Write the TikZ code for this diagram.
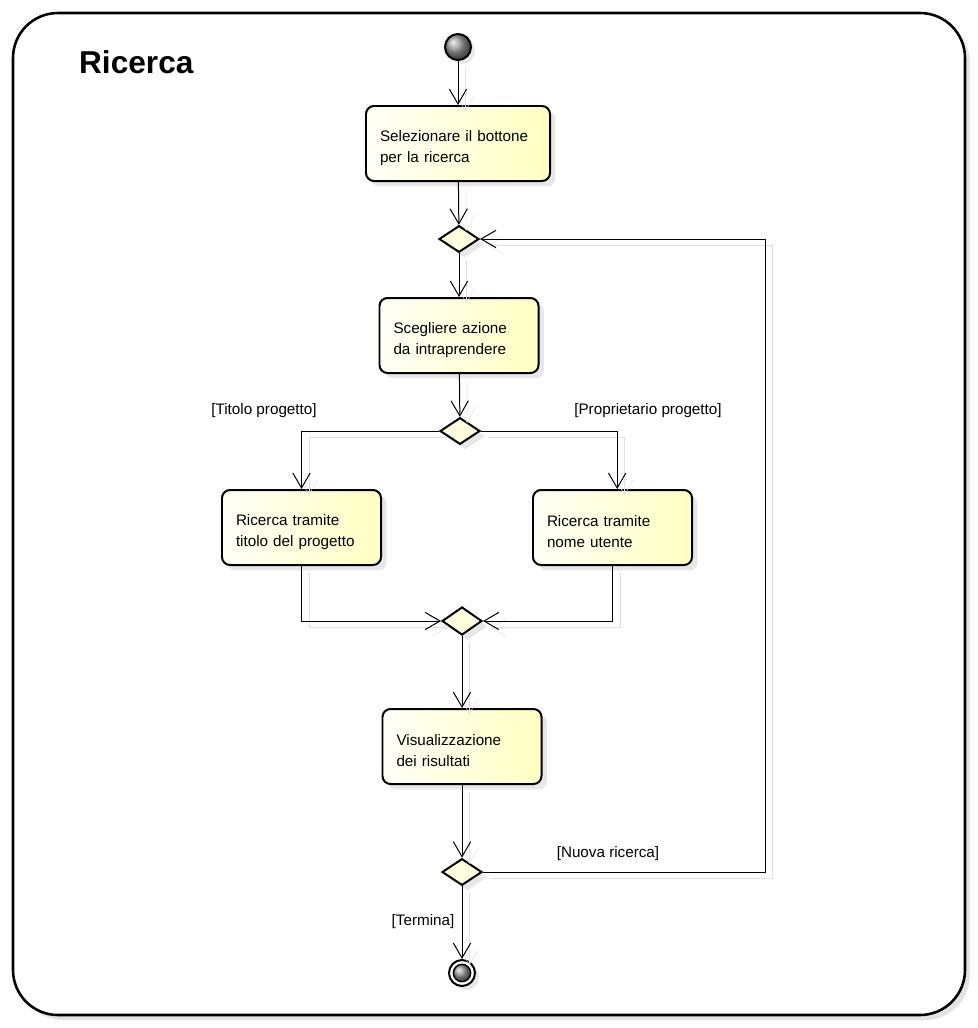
\documentclass[tikz,border=0pt]{standalone}
\usepackage{fontspec}
\setmainfont{Liberation Sans}
\usetikzlibrary{arrows.meta,shapes.geometric,shadows}
\tikzset{
  action/.style={draw, line width=1.7pt, rounded corners=0.24cm, left color=yellow!3, right color=yellow!24,
    minimum height=2.25cm, text width=3.93cm, inner xsep=0.42cm, align=left, font=\fontsize{13}{18}\selectfont,
    execute at begin node={\rule{0pt}{17pt}},
    drop shadow={shadow xshift=0.16cm, shadow yshift=-0.16cm, fill=black!18}},
  choice/.style={diamond, draw, line width=1.7pt, fill=yellow!13, minimum width=1.2cm, minimum height=0.8cm, inner sep=0pt,
    drop shadow={shadow xshift=0.16cm, shadow yshift=-0.16cm, fill=black!18}},
  flow/.style={-{Straight Barb[length=0.45cm,width=0.52cm]}, line width=0.85pt,
    preaction={draw=black!12, transform canvas={shift={(0.22cm,-0.2cm)}}}},
  guard/.style={font=\fontsize{13}{16}\selectfont}
}
\begin{document}
\begin{tikzpicture}[x=0.03cm,y=-0.03cm]
	\useasboundingbox (0,0) rectangle (978,1028);
	\draw[line width=2.2pt, rounded corners=1.35cm, fill=white, drop shadow={shadow xshift=0.15cm, shadow yshift=-0.15cm, fill=black!22}] (13,13) rectangle (965,1015);
	\node[anchor=west, font=\fontsize{27}{30}\selectfont\bfseries] (title) at (75,62) {Ricerca};
	% nodi
	\node[circle, draw, line width=1.7pt, ball color=black!40, minimum size=0.78cm, inner sep=0pt,
		drop shadow={shadow xshift=0.12cm, shadow yshift=-0.12cm, fill=black!18}] (start) at (458,47) {};
	\node[action, text width=4.68cm] (pick) at (458,143.5) {Selezionare il bottone\\per la ricerca};
	\node[choice] (decide) at (459,239) {};
	\node[action] (choose) at (459,335.5) {Scegliere azione\\da intraprendere};
	\node[choice] (which) at (460,431) {};
	\node[action] (bytitle) at (301.5,527.5) {Ricerca tramite\\titolo del progetto};
	\node[action] (byuser) at (612.5,527.5) {Ricerca tramite\\nome utente};
	\node[choice, minimum height=0.84cm] (merge) at (462,621) {};
	\node[action] (results) at (462,746.5) {Visualizzazione\\dei risultati};
	\node[choice] (again) at (462,872) {};
	\node[circle, draw, line width=1.7pt, fill=white, minimum size=0.78cm, inner sep=0pt,
		drop shadow={shadow xshift=0.12cm, shadow yshift=-0.12cm, fill=black!18}] (stop) at (462,973) {};
	\node[circle, draw, line width=1.2pt, ball color=black!40, minimum size=0.52cm, inner sep=0pt] (stopdot) at (stop) {};
	\coordinate (back) at (765,872);
	% collegamenti
	\draw[flow] (start) -- (pick);
	\draw[flow] (pick) -- (decide);
	\draw[flow] (decide) -- (choose);
	\draw[flow] (choose) -- (which);
	\draw[flow] (which.west) -| (bytitle.north);
	\draw[flow] (which.east) -| ([xshift=0.14cm]byuser.north);
	\draw[flow] (bytitle.south) |- (merge.west);
	\draw[flow] (byuser.south) |- (merge.east);
	\draw[flow] (merge) -- (results);
	\draw[flow] (results) -- (again);
	\draw[flow] (again.east) -- (back) |- (decide.east);
	\draw[flow] (again) -- (stop);
	% guardie
	\node[guard] (gtitle) at (264,411) {[Titolo progetto]};
	\node[guard] (guser) at (648,411) {[Proprietario progetto]};
	\node[guard] (gagain) at (608,854) {[Nuova ricerca]};
	\node[guard] (gend) at (423,922) {[Termina]};
\end{tikzpicture}
\end{document}
